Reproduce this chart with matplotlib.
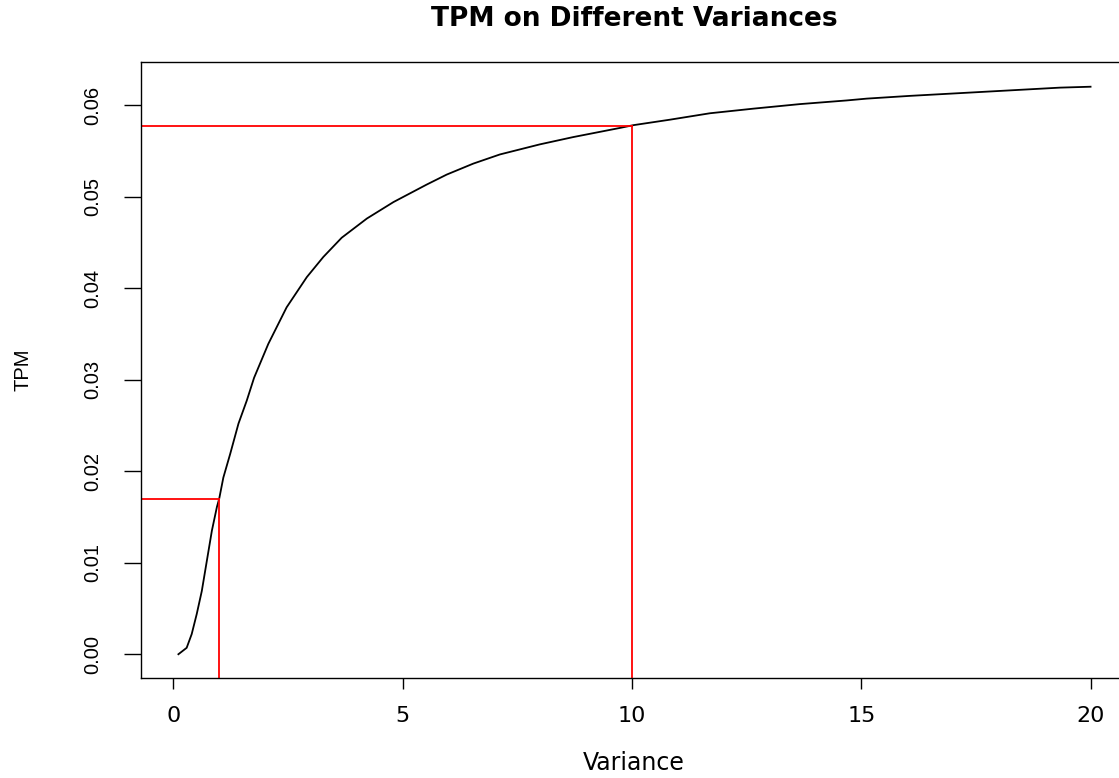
import numpy as np
import matplotlib
matplotlib.use("Agg")
import matplotlib.pyplot as plt

# values
variance = [0.11, 0.29, 0.40, 0.51, 0.62, 0.73, 0.84, 0.95, 1.00, 1.09, 1.24,
            1.42, 1.60, 1.76, 2.07, 2.47, 2.91, 3.27, 3.67, 4.22, 4.80, 5.52,
            5.96, 6.54, 7.12, 7.99, 8.72, 9.74, 10.03, 10.83, 11.70, 12.64,
            13.66, 14.68, 15.12, 16.06, 17.15, 18.24, 19.33, 20.0]
tpm = [0.0000, 0.0007, 0.0022, 0.0044, 0.0069, 0.0102, 0.0135, 0.0161, 0.0170,
       0.0193, 0.0219, 0.0252, 0.0277, 0.0302, 0.0339, 0.0379, 0.0412, 0.0434,
       0.0455, 0.0476, 0.0494, 0.0513, 0.0524, 0.0536, 0.0546, 0.0557, 0.0565,
       0.0575, 0.0578, 0.0584, 0.0591, 0.0596, 0.0601, 0.0605, 0.0607, 0.0610,
       0.0613, 0.0616, 0.0619, 0.0620]

# marked points (variance, TPM)
mark_x = [1, 10]
mark_y = [0.0170, 0.0577]

x_ticks = [0, 5, 10, 15, 20]
y_ticks = [0.00, 0.01, 0.02, 0.03, 0.04, 0.05, 0.06]

plt.rcParams['font.family'] = ['Liberation Sans', 'DejaVu Sans']

fig = plt.figure(figsize=(11.19, 7.78), dpi=100)
ax = fig.add_axes([0.1264, 0.1285, 0.8808, 0.7918])

ax.plot(variance, tpm, color='black', lw=1.3)
for mx, my in zip(mark_x, mark_y):
    ax.plot([-5, mx], [my, my], color='red', lw=1.3)
    ax.plot([mx, mx], [my, -1], color='red', lw=1.3)

ax.set_xlim(-0.696, 20.796)
ax.set_ylim(-0.0026, 0.0647)
ax.set_xticks(x_ticks)
ax.set_xticklabels([str(v) for v in x_ticks], family='DejaVu Sans', fontsize=16)
ax.set_yticks(y_ticks)
ax.set_yticklabels([f"{v:.2f}" for v in y_ticks], rotation=90, va='center',
                   fontsize=14.5)
ax.tick_params(axis='x', direction='out', length=8, width=1, pad=12)
ax.tick_params(axis='y', direction='out', length=12, width=1, pad=16)
for s in ax.spines.values():
    s.set_linewidth(1)

ax.set_title('TPM on Different Variances', family='DejaVu Sans', fontsize=19,
             fontweight='bold', pad=26)
ax.set_xlabel('Variance', family='DejaVu Sans', fontsize=17, labelpad=18)
ax.set_ylabel('TPM', fontsize=14.5, labelpad=37)

fig.savefig('out.png', dpi=100)
